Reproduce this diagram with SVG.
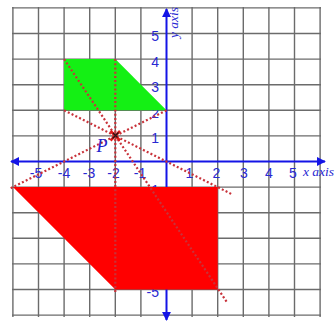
<svg xmlns="http://www.w3.org/2000/svg" width="335" height="322" viewBox="0 0 335 322">
<style>
.grid line{stroke:#6b6b6b;stroke-width:1.4}
.axis{stroke:#1414e6;stroke-width:2;fill:none}
.num{font-family:"Liberation Sans",Arial,sans-serif;font-size:14px;fill:#2828d2}
.nx{text-anchor:middle}
.ny{text-anchor:end}
.lbl{font-family:"Liberation Serif","Times New Roman",serif;font-style:italic;font-size:13.5px;fill:#2828d2}
.dot{stroke:#c8323a;stroke-width:2.2;stroke-dasharray:2 2.2;fill:none}
</style>
<defs>
<marker id="arr" viewBox="0 0 10 10" refX="9" refY="5" markerWidth="4.5" markerHeight="4.5" orient="auto-start-reverse" markerUnits="strokeWidth">
<path d="M0,0 L10,5 L0,10 z" fill="#1414e6"/>
</marker>
</defs>
<rect width="335" height="322" fill="#ffffff"/>
<g class="grid">
<line x1="12.9" y1="7" x2="12.9" y2="317"/>
<line x1="38.5" y1="7" x2="38.5" y2="317"/>
<line x1="64.1" y1="7" x2="64.1" y2="317"/>
<line x1="89.7" y1="7" x2="89.7" y2="317"/>
<line x1="115.3" y1="7" x2="115.3" y2="317"/>
<line x1="140.9" y1="7" x2="140.9" y2="317"/>
<line x1="192.1" y1="7" x2="192.1" y2="317"/>
<line x1="217.7" y1="7" x2="217.7" y2="317"/>
<line x1="243.3" y1="7" x2="243.3" y2="317"/>
<line x1="268.9" y1="7" x2="268.9" y2="317"/>
<line x1="294.5" y1="7" x2="294.5" y2="317"/>
<line x1="320.1" y1="7" x2="320.1" y2="317"/>
<line x1="12" y1="7.9" x2="321" y2="7.9"/>
<line x1="12" y1="33.5" x2="321" y2="33.5"/>
<line x1="12" y1="59.1" x2="321" y2="59.1"/>
<line x1="12" y1="84.7" x2="321" y2="84.7"/>
<line x1="12" y1="110.3" x2="321" y2="110.3"/>
<line x1="12" y1="135.9" x2="321" y2="135.9"/>
<line x1="12" y1="187.1" x2="321" y2="187.1"/>
<line x1="12" y1="212.7" x2="321" y2="212.7"/>
<line x1="12" y1="238.3" x2="321" y2="238.3"/>
<line x1="12" y1="263.9" x2="321" y2="263.9"/>
<line x1="12" y1="289.5" x2="321" y2="289.5"/>
<line x1="12" y1="315.1" x2="321" y2="315.1"/>
</g>
<g id="axes">
<line class="axis" x1="11" y1="161.5" x2="325" y2="161.5" marker-start="url(#arr)" marker-end="url(#arr)"/>
<line class="axis" x1="166.5" y1="320" x2="166.5" y2="9" marker-start="url(#arr)" marker-end="url(#arr)"/>
</g>
<g id="tick-labels">
<text class="num nx" x="36" y="177.5">-5</text>
<text class="num nx" x="64" y="177.5">-4</text>
<text class="num nx" x="89" y="177.5">-3</text>
<text class="num nx" x="113.5" y="177.5">-2</text>
<text class="num nx" x="140" y="177.5">-1</text>
<text class="num nx" x="189.5" y="177.5">1</text>
<text class="num nx" x="216.5" y="177.5">2</text>
<text class="num nx" x="244" y="177.5">3</text>
<text class="num nx" x="269" y="177.5">4</text>
<text class="num nx" x="293" y="177.5">5</text>
<text class="num ny" x="159" y="41.3">5</text>
<text class="num ny" x="159" y="66.7">4</text>
<text class="num ny" x="159" y="92.3">3</text>
<text class="num ny" x="159" y="117.9">2</text>
<text class="num ny" x="159" y="143.3">1</text>
<text class="num ny" x="159" y="194.6">-1</text>
<text class="num ny" x="159" y="220.2">-2</text>
<text class="num ny" x="159" y="245.8">-3</text>
<text class="num ny" x="159" y="271.4">-4</text>
<text class="num ny" x="159" y="296.5">-5</text>
<text class="lbl" x="303" y="176">x axis</text>
<text class="lbl" transform="translate(178,38) rotate(-90)">y axis</text>
</g>
<g id="green-shape">
<polygon points="64.1,59.1 115.3,59.1 166.5,110.3 64.1,110.3" fill="#14f014"/>
</g>
<g id="red-shape">
<polygon points="12.9,187.1 217.7,187.1 217.7,289.5 115.3,289.5" fill="#ff0000"/>
</g>
<g id="connectors">
<line class="dot" x1="64.1" y1="59.1" x2="227.5" y2="303"/>
<line class="dot" x1="115.3" y1="59.1" x2="115.3" y2="293"/>
<line class="dot" x1="166.5" y1="110.3" x2="10.5" y2="188.3"/>
<line class="dot" x1="64.1" y1="110.3" x2="233" y2="194.8"/>
</g>
<g id="point-P">
<path d="M110.5,131 L120,140.5 M120,131 L110.5,140.5" stroke="#e01818" stroke-width="2.6"/>
<path d="M112.5,138.5 L118.5,132.5 M113,133 L117.5,137.5" stroke="#1a1a1a" stroke-width="1.2"/>
<text x="96.5" y="152" font-family="'Liberation Serif','Times New Roman',serif" font-style="italic" font-size="18" fill="#2222cc">P</text>
</g>
</svg>
